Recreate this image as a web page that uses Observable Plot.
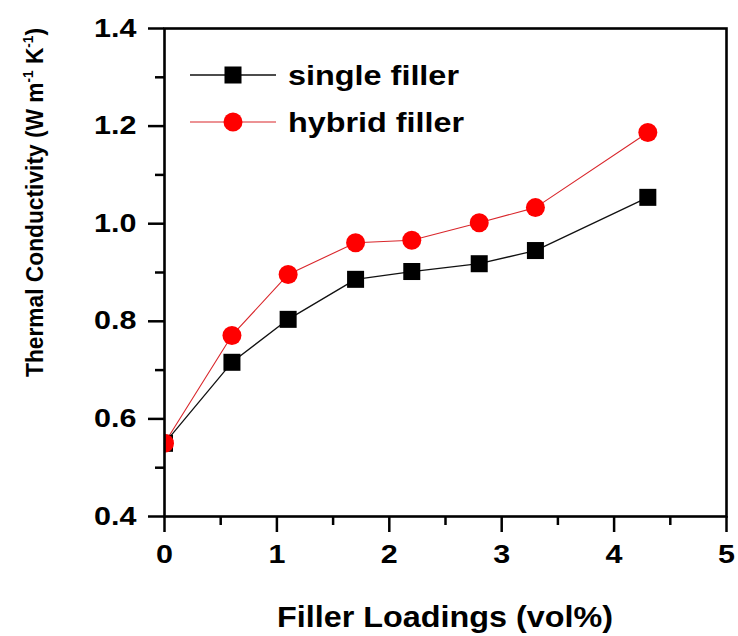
<!DOCTYPE html>
<html>
<head>
<meta charset="utf-8">
<script src="https://cdn.jsdelivr.net/npm/d3@7"></script>
<script src="https://cdn.jsdelivr.net/npm/@observablehq/plot@0.6"></script>
<style>
  html, body { margin: 0; padding: 0; background: #fff; }
  #chart { width: 738px; height: 636px; }
</style>
</head>
<body>
<div id="chart"></div>
<script>
// ---- data ----
const fillerLoadings = [0, 0.6, 1.1, 1.7, 2.2, 2.8, 3.3, 4.3];
const singleFiller   = [0.55, 0.716, 0.804, 0.886, 0.902, 0.918, 0.945, 1.054];
const hybridFiller   = [0.55, 0.771, 0.896, 0.961, 0.966, 1.002, 1.033, 1.187];
const seriesNames    = ["single filler", "hybrid filler"];
const seriesColors   = ["#000000", "#ff0000"];
const lineColors     = ["#111111", "#d9262b"];
const seriesSymbols  = ["square", "circle"];
const xTicks      = [0, 1, 2, 3, 4, 5];
const xMinorTicks = [0.5, 1.5, 2.5, 3.5, 4.5];
const yTicks      = [0.4, 0.6, 0.8, 1.0, 1.2, 1.4];
const yMinorTicks = [0.5, 0.7, 0.9, 1.1, 1.3];
const xTitle = "Filler Loadings (vol%)";
const yTitleParts = ["Thermal Conductivity (W m", "-1", " K", "-1", ")"];

const single = fillerLoadings.map((x, i) => ({x, y: singleFiller[i]}));
const hybrid = fillerLoadings.map((x, i) => ({x, y: hybridFiller[i]}));

const FONT = "'Liberation Sans', Arial, Helvetica, sans-serif";

const plot = Plot.plot({
  width: 738,
  height: 636,
  marginLeft: 164,
  marginRight: 12,
  marginTop: 28,
  marginBottom: 120,
  style: {fontFamily: FONT, background: "#fff", overflow: "visible"},
  x: {domain: [0, 5]},
  y: {domain: [0.4, 1.4]},
  marks: [
    Plot.line(single, {x: "x", y: "y", stroke: lineColors[0], strokeWidth: 1.3}),
    Plot.line(hybrid, {x: "x", y: "y", stroke: lineColors[1], strokeWidth: 1.1}),
    Plot.dot(single, {x: "x", y: "y", symbol: seriesSymbols[0], r: 9.6, fill: seriesColors[0], stroke: "none", clip: "frame"}),
    Plot.dot(hybrid, {x: "x", y: "y", symbol: seriesSymbols[1], r: 9.5, fill: seriesColors[1], stroke: "none", clip: "frame"}),
    Plot.axisY({ticks: yTicks, tickSize: 16, tickPadding: 12, tickFormat: d3.format(".1f"),
      fontSize: 25, fontWeight: "bold", strokeWidth: 2.5, stroke: "#000", fill: "#000", label: null}),
    Plot.axisY({ticks: yMinorTicks, tickSize: 9, text: null, strokeWidth: 2.5, stroke: "#000", label: null}),
    Plot.axisX({ticks: xTicks, tickSize: 16, tickPadding: 13, tickFormat: d3.format("d"),
      fontSize: 25, fontWeight: "bold", strokeWidth: 2.5, stroke: "#000", fill: "#000", label: null}),
    Plot.axisX({ticks: xMinorTicks, tickSize: 9, text: null, strokeWidth: 2.5, stroke: "#000", label: null}),
    Plot.frame({stroke: "#000", strokeWidth: 2.6})
  ]
});

document.getElementById("chart").appendChild(plot);
const svg = d3.select(plot);

// stretch tick labels horizontally (about their anchor) to match the wide lettering
svg.selectAll("g[aria-label='y-axis tick label'] text, g[aria-label='x-axis tick label'] text").each(function() {
  const t = d3.select(this);
  const tr = t.attr("transform");
  if (tr) {
    t.attr("transform", tr + " scale(1.22,1)");
  } else {
    const len = this.getComputedTextLength();
    t.attr("textLength", len * 1.22).attr("lengthAdjust", "spacingAndGlyphs");
  }
});

// x-axis title
svg.append("text")
  .attr("x", 277).attr("y", 627)
  .attr("text-anchor", "start")
  .attr("font-family", FONT).attr("font-weight", "bold").attr("font-size", 29)
  .attr("fill", "#000")
  .attr("textLength", 336).attr("lengthAdjust", "spacingAndGlyphs")
  .text(xTitle);

// y-axis title (rotated, with superscripts)
const yt = svg.append("text")
  .attr("transform", "translate(42.5,377) rotate(-90)")
  .attr("text-anchor", "start")
  .attr("font-family", FONT).attr("font-weight", "bold").attr("font-size", 23.5)
  .attr("fill", "#000");
yTitleParts.forEach((p, i) => {
  const sup = i === 1 || i === 3;
  const t = yt.append("tspan").text(p);
  if (sup) t.attr("font-size", 14).attr("dy", -10);
  else if (i > 0) t.attr("dy", 10);
});
yt.attr("textLength", 349).attr("lengthAdjust", "spacingAndGlyphs");

// legend
const legendY = [75, 122];
const lg = svg.append("g").attr("text-anchor", "start");
seriesNames.forEach((name, i) => {
  const y = legendY[i];
  lg.append("line").attr("x1", 190).attr("x2", 276).attr("y1", y).attr("y2", y)
    .attr("stroke", lineColors[i]).attr("stroke-width", i === 0 ? 1.3 : 1.1);
  lg.append("path")
    .attr("transform", `translate(233,${y})`)
    .attr("d", d3.symbol(seriesSymbols[i] === "square" ? d3.symbolSquare : d3.symbolCircle, Math.PI * (i === 0 ? 9.6 : 9.5) ** 2)())
    .attr("fill", seriesColors[i]);
  lg.append("text")
    .attr("x", 288).attr("y", y + 10)
    .attr("text-anchor", "start")
    .attr("font-family", FONT).attr("font-weight", "bold").attr("font-size", 28)
    .attr("fill", "#000")
    .attr("textLength", i === 0 ? 171 : 176).attr("lengthAdjust", "spacingAndGlyphs")
    .text(name);
});
</script>
</body>
</html>
